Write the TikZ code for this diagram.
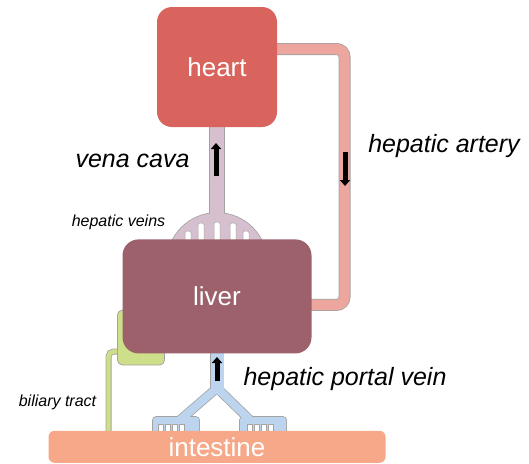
\documentclass[tikz,border=0pt]{standalone}
\usepackage{fontspec}
\setmainfont{Liberation Sans}
\usepackage{tikz}
\usetikzlibrary{arrows.meta,positioning,backgrounds}
\definecolor{heartred}{HTML}{D9645E}
\definecolor{liverred}{HTML}{9C616B}
\definecolor{gutorange}{HTML}{F7A889}
\definecolor{arterypink}{HTML}{ECA69D}
\definecolor{venamauve}{HTML}{D6C0CF}
\definecolor{portalblue}{HTML}{BCD4EE}
\definecolor{bilegreen}{HTML}{CEDF8A}
\definecolor{edgegray}{HTML}{A3A3A3}
\tikzset{
  organ/.style={rounded corners=15pt, inner sep=0pt, text=white,
                font=\fontsize{26}{30}\selectfont},
  heartbox/.style={organ, fill=heartred, minimum width=120pt, minimum height=120pt},
  liverbox/.style={organ, fill=liverred, rounded corners=16pt,
                   minimum width=189pt, minimum height=114pt},
  gutbox/.style={organ, fill=gutorange, rounded corners=6pt,
                 minimum width=337pt, minimum height=32pt},
  bilebox/.style={draw=edgegray, line width=.8pt, fill=bilegreen, rounded corners=5pt,
                  minimum width=47pt, minimum height=55pt, inner sep=0pt},
  tube/.style={draw=edgegray, line width=.8pt, double=#1},
  rim/.style={draw=edgegray, line width=#1+1.6pt},
  core/.style={line width=#1},
  slot/.style={fill=white, draw=edgegray, line width=.5pt},
  flow/.style={-{Triangle[width=10pt,length=6pt]}, line width=5pt, draw=black},
  bigtag/.style={font=\fontsize{25}{30}\selectfont\itshape, anchor=base, inner sep=0pt},
  smalltag/.style={font=\fontsize{16}{19}\selectfont\itshape, anchor=base, inner sep=0pt}
}
\begin{document}
\begin{tikzpicture}[x=1pt, y=-1pt]
  \useasboundingbox (0,0) rectangle (529,463);
  \node[heartbox] (heart) at (217,67) {heart};
  \node[liverbox, below=112pt of heart] (liver) {liver};
  \node[gutbox, below=77pt of liver] (gut) {intestine};

  \coordinate (dome) at (217,263);
  \coordinate (fork) at (217,388);
  \coordinate (leftcomb) at (180,420);
  \coordinate (rightcomb) at (250,420);
  \coordinate (bilefoot) at (108.5,440);

  \begin{scope}[on background layer]
    \draw[tube=arterypink, double distance=10.4pt, rounded corners=8pt]
      ([xshift=-6pt,yshift=18pt]heart.east) -- (344.5,49) |- ([xshift=-6pt,yshift=-8.5pt]liver.east);
    % vena cava and the dome of hepatic veins share one outline
    \fill[edgegray] (dome) circle[radius=50.8pt];
    \draw[rim=13.5pt] (heart.center) -- (dome);
    \fill[venamauve] (dome) circle[radius=50pt];
    \draw[core=13.5pt, venamauve] (heart.center) -- (dome);
    \foreach \dx/\top in {-29/231,-16/223,0/222,16/223,29/231}
      \draw[slot, rounded corners=1.5pt] (214+\dx,\top) rectangle (220+\dx,250);

    \draw[rim=13pt] (liver.center) -- (fork);
    \draw[rim=8pt, line join=round, line cap=round] (leftcomb) -- (fork) -- (rightcomb);
    \foreach \cx in {153,240}
      \draw[edgegray, fill=edgegray, line width=1.6pt, rounded corners=3pt] (\cx,417) rectangle (\cx+46,440);
    \draw[core=13pt, portalblue, line cap=round] (liver.center) -- (fork);
    \draw[core=8pt, portalblue, line join=round, line cap=round] (leftcomb) -- (fork) -- (rightcomb);
    \foreach \cx in {153,240}
      \fill[portalblue, rounded corners=3pt] (\cx,417) rectangle (\cx+46,440);
    \foreach \sx in {158,165,172,179,247,254,261,268}
      \draw[slot] (\sx,424) rectangle (\sx+5,440);

    \node[bilebox] (bile) at (141,337.5) {};
    \draw[tube=bilegreen, double distance=4.4pt, rounded corners=5pt]
      ([yshift=-14pt]bile.west) -| (bilefoot);
  \end{scope}

  \coordinate (cavatail) at (216,176);
  \coordinate (cavahead) at (216,143);
  \coordinate (arterytail) at (345,152);
  \coordinate (arteryhead) at (345,186);
  \coordinate (portaltail) at (217,381);
  \coordinate (portalhead) at (217,357);
  \draw[flow] (cavatail) -- (cavahead);
  \draw[flow] (arterytail) -- (arteryhead);
  \draw[flow] (portaltail) -- (portalhead);

  \node[bigtag] (cavalabel) at (132.5,167) {vena cava};
  \node[bigtag] (arterylabel) at (444,152) {hepatic artery};
  \node[smalltag] (veinslabel) at (118.5,226) {hepatic veins};
  \node[smalltag] (bilelabel) at (57.5,406) {biliary tract};
  \node[bigtag] (portallabel) at (345,385) {hepatic portal vein};
\end{tikzpicture}
\end{document}
